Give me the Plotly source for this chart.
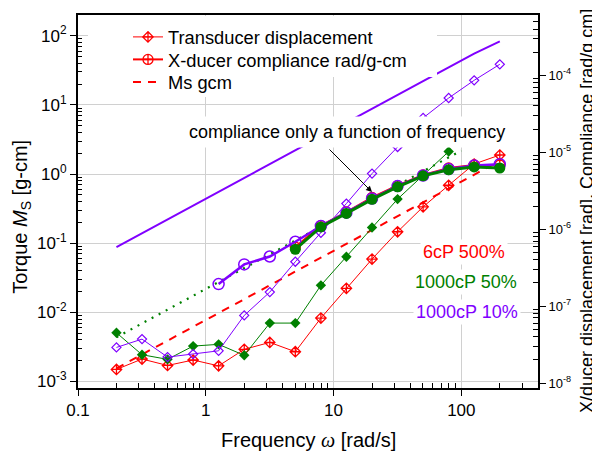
import plotly.graph_objects as go

# ---------------- data ----------------
w = [0.2, 0.317, 0.502, 0.796, 1.26, 2.0, 3.17, 5.02, 7.96, 12.6, 20.0, 31.7, 50.2, 79.6, 126.0, 200.0]

# transducer displacement [rad] (right axis)
disp_6cP_500 = [1.50e-8, 2.05e-8, 1.69e-8, 1.99e-8, 1.67e-8, 2.74e-8, 3.37e-8, 2.55e-8,
                6.98e-8, 1.70e-7, 4.08e-7, 9.25e-7, 1.95e-6, 3.72e-6, 7.03e-6, 9.20e-6]
disp_1000cP_50 = [4.50e-8, 2.33e-8, 2.03e-8, 3.02e-8, 3.18e-8, 2.29e-8, 6.01e-8, 6.01e-8,
                  1.86e-7, 4.38e-7, 1.05e-6, 2.46e-6, 5.01e-6, 1.02e-5]
disp_1000cP_10 = [2.90e-8, 3.72e-8, 2.17e-8, 2.38e-8, 2.62e-8, 7.57e-8, 1.52e-7, 3.77e-7,
                  8.97e-7, 2.15e-6, 5.28e-6, 1.17e-5, 2.79e-5, 5.07e-5, 8.61e-5, 1.39e-4]

# compliance [rad/g cm] (right axis)
w_comp_6cP = w[7:]
comp_6cP_500 = [5.85e-7, 1.11e-6, 1.67e-6, 2.58e-6, 3.69e-6, 5.06e-6, 6.24e-6, 6.82e-6, 6.82e-6]
w_comp_50 = w[7:]
comp_1000cP_50 = [5.46e-7, 1.07e-6, 1.60e-6, 2.44e-6, 3.55e-6, 4.93e-6, 5.91e-6, 6.43e-6, 6.24e-6]
w_comp_10 = w[4:]
comp_1000cP_10 = [1.93e-7, 3.48e-7, 4.41e-7, 6.85e-7, 1.10e-6, 1.64e-6, 2.50e-6, 3.63e-6,
                  4.98e-6, 6.05e-6, 6.71e-6, 6.97e-6]

# Ms torque [g-cm] (left axis)
ms_6cP_500 = [0.00155, 0.00246, 0.0039, 0.00618, 0.0098, 0.0155, 0.0246, 0.039,
              0.0618, 0.098, 0.155, 0.246, 0.39, 0.618, 0.98, 1.55]
w_ms_50 = [0.2, 100.0]
ms_1000cP_50 = [0.00436, 2.18]
ms_1000cP_10 = [0.0875, 0.139, 0.22, 0.348, 0.551, 0.875, 1.39, 2.2,
                3.48, 5.51, 8.75, 13.9, 22.0, 34.8, 55.1, 83.0]

x_tickvals = [0.1, 1, 10, 100]
x_ticktext = ["0.1", "1", "10", "100"]
y_tickvals = [1e-3, 1e-2, 1e-1, 1, 10, 100]
y_ticktext = ["10<sup>-3</sup>", "10<sup>-2</sup>", "10<sup>-1</sup>", "10<sup>0</sup>", "10<sup>1</sup>", "10<sup>2</sup>"]
y2_tickvals = [1e-8, 1e-7, 1e-6, 1e-5, 1e-4]
y2_ticktext = ["10<sup>-8</sup>", "10<sup>-7</sup>", "10<sup>-6</sup>", "10<sup>-5</sup>", "10<sup>-4</sup>"]

RED = "#ff0000"
GREEN = "#008000"
PURPLE = "#8000ff"
FONT = "Arial, Liberation Sans, sans-serif"

def minor_vals(d0, d1, vmax):
    out = []
    for d in range(d0, d1 + 1):
        for k in range(2, 10):
            v = k * 10.0 ** d
            if v <= vmax:
                out.append(v)
    return out

fig = go.Figure()

# thin displacement lines
fig.add_trace(go.Scatter(x=w, y=disp_6cP_500, yaxis="y2", mode="lines+markers",
                         name="Transducer displacement", legend="legend",
                         line=dict(color=RED, width=1),
                         marker=dict(symbol="diamond-cross-open", size=8, color=RED, line=dict(width=1.3, color=RED))))
fig.add_trace(go.Scatter(x=w[:14], y=disp_1000cP_50, yaxis="y2", mode="lines+markers", showlegend=False,
                         line=dict(color=GREEN, width=1),
                         marker=dict(symbol="diamond", size=8, color=GREEN)))
fig.add_trace(go.Scatter(x=w, y=disp_1000cP_10, yaxis="y2", mode="lines+markers", showlegend=False,
                         line=dict(color=PURPLE, width=1),
                         marker=dict(symbol="diamond-open", size=7, color=PURPLE, line=dict(width=1.2, color=PURPLE))))

# Ms lines (left axis)
fig.add_trace(go.Scatter(x=w, y=ms_6cP_500, mode="lines", name="Ms gcm", legend="legend3",
                         line=dict(color=RED, width=2, dash="8px,7px")))
fig.add_trace(go.Scatter(x=w_ms_50, y=ms_1000cP_50, mode="lines", showlegend=False,
                         line=dict(color=GREEN, width=2.2, dash="2px,6px")))
fig.add_trace(go.Scatter(x=w, y=ms_1000cP_10, mode="lines", showlegend=False,
                         line=dict(color=PURPLE, width=2)))

# compliance (thick)
fig.add_trace(go.Scatter(x=w_comp_6cP, y=comp_6cP_500, yaxis="y2", mode="lines+markers",
                         name="X-ducer compliance rad/g-cm", legend="legend2",
                         line=dict(color=RED, width=2),
                         marker=dict(symbol="circle-cross-open", size=10, color=RED, line=dict(width=1.3, color=RED))))
fig.add_trace(go.Scatter(x=w_comp_10, y=comp_1000cP_10, yaxis="y2", mode="lines+markers", showlegend=False,
                         line=dict(color=PURPLE, width=2.5),
                         marker=dict(symbol="circle-open", size=11, color=PURPLE, line=dict(width=1.5, color=PURPLE))))
fig.add_trace(go.Scatter(x=w_comp_50, y=comp_1000cP_50, yaxis="y2", mode="lines+markers", showlegend=False,
                         line=dict(color=GREEN, width=3),
                         marker=dict(symbol="circle", size=11, color=GREEN)))

L, R, T, B = 78, 54, 15, 65
W, H = 592, 453
PW, PH = W - L - R, H - T - B

def px(x):
    return (x - L) / PW

def py(y):
    return (H - B - y) / PH

axis_common = dict(showline=True, linewidth=2, linecolor="black", ticks="outside", ticklen=6,
                   tickwidth=1, tickcolor="black",
                   zeroline=False, automargin=False)

leg_common = dict(xanchor="left", yanchor="middle", bgcolor="rgba(0,0,0,0)",
                  font=dict(size=18.3, family=FONT, color="black"), borderwidth=0)

fig.update_layout(
    width=W, height=H, margin=dict(l=L, r=R, t=T, b=B),
    paper_bgcolor="white", plot_bgcolor="white",
    font=dict(family=FONT, color="black"),
    xaxis=dict(type="log", range=[-1, 2.6], tickmode="array", tickvals=x_tickvals, ticktext=x_ticktext,
               showgrid=True, gridcolor="#d0d0d0", gridwidth=1, mirror=True,
               tickfont=dict(size=17, color="black", family=FONT),
               minor=dict(tickmode="array", tickvals=minor_vals(-1, 2, 400), ticks="inside", ticklen=5,
                          tickcolor="black", showgrid=False),
               **axis_common),
    yaxis=dict(type="log", range=[-3.094, 2.299], tickmode="array", tickvals=y_tickvals, ticktext=y_ticktext,
               showgrid=True, gridcolor="#d0d0d0", gridwidth=1,
               tickfont=dict(size=17, color="black", family=FONT),
               minor=dict(tickmode="array", tickvals=minor_vals(-3, 2, 200), ticks="inside", ticklen=4,
                          tickcolor="black", showgrid=False),
               **axis_common),
    yaxis2=dict(type="log", range=[-8.065, -3.216], overlaying="y", side="right", tickmode="array",
                tickvals=y2_tickvals, ticktext=y2_ticktext, showgrid=False,
                tickfont=dict(size=13, color="black", family=FONT),
                minor=dict(tickmode="array", tickvals=minor_vals(-8, -4, 6e-4), ticks="inside", ticklen=5,
                           tickcolor="black", showgrid=False),
                **axis_common),
    legend=dict(x=px(128), y=py(37), **leg_common),
    legend2=dict(x=px(128), y=py(59.5), **leg_common),
    legend3=dict(x=px(128), y=py(82), **leg_common),
    showlegend=True,
)

# white backing of the legend (above data, as in the original)
fig.add_shape(type="rect", xref="paper", yref="paper", x0=px(88), x1=px(437), y0=py(77), y1=py(16),
              fillcolor="white", line=dict(width=0), layer="above")
fig.add_shape(type="rect", xref="paper", yref="paper", x0=px(88), x1=px(238), y0=py(97), y1=py(77),
              fillcolor="white", line=dict(width=0), layer="above")

# annotation with arrow
fig.add_annotation(xref="paper", yref="paper", x=px(346.5), y=py(131.5), xanchor="center", yanchor="middle",
                   text="compliance only a function of frequency",
                   showarrow=False, bgcolor="white", borderpad=5, font=dict(size=18, color="black", family=FONT))
fig.add_annotation(xref="paper", yref="paper", x=px(372), y=py(192), text="", showarrow=True,
                   ax=-44, ay=-44, arrowhead=2, arrowsize=1.2, arrowwidth=1, arrowcolor="black")

# series labels
for txt, col, cx, cy in [("6cP 500%", RED, 463.5, 252), ("1000cP 50%", GREEN, 466, 282.5), ("1000cP 10%", PURPLE, 466.7, 311.5)]:
    fig.add_annotation(xref="paper", yref="paper", x=px(cx), y=py(cy), xanchor="center", yanchor="middle",
                       text=txt, showarrow=False,
                       bgcolor="white", borderpad=2, font=dict(size=18, color=col, family=FONT))

# axis titles
fig.add_annotation(xref="paper", yref="paper", x=px(308), y=py(440), xanchor="center", yanchor="middle",
                   text="Frequency <span style='font-family:Liberation Serif, Times New Roman, serif'><i>ω</i></span> [rad/s]",
                   showarrow=False, font=dict(size=20, color="black", family=FONT))
fig.add_annotation(xref="paper", yref="paper", x=px(22), y=py(216.7), xanchor="center", yanchor="middle",
                   textangle=-90, text="Torque <i>M</i><sub>S</sub> [g-cm]",
                   showarrow=False, font=dict(size=20, color="black", family=FONT))
fig.add_annotation(xref="paper", yref="paper", x=px(587), y=py(211), xanchor="center", yanchor="middle",
                   textangle=-90, text="X/ducer displacement [rad], Compliance [rad/g cm]",
                   showarrow=False, font=dict(size=18, color="black", family=FONT))

fig.write_html("out.html")
